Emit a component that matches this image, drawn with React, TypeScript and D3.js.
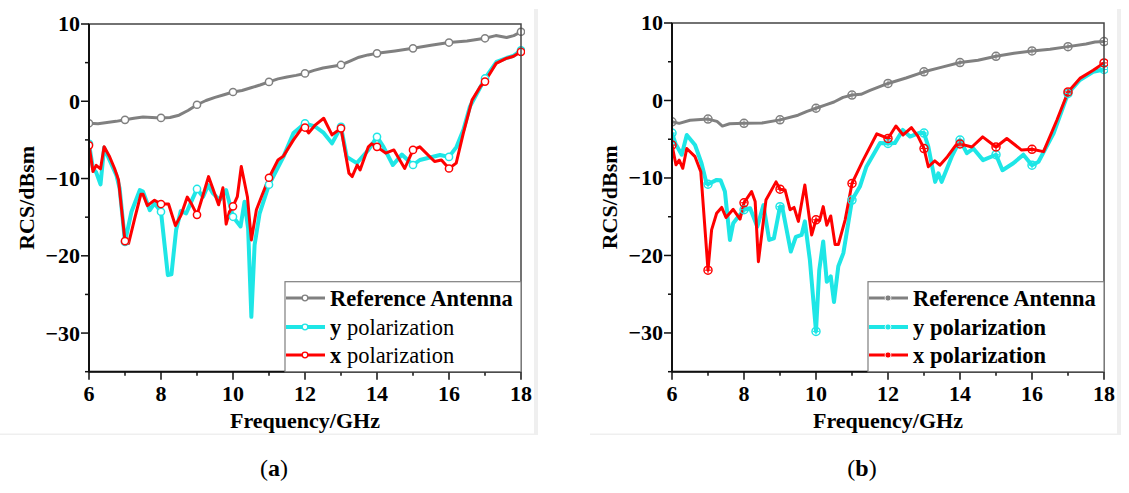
import * as d3 from "d3";

const W = 1129;
const H = 493;
const FONT = '"Liberation Serif", "Times New Roman", serif';

// [frequency GHz, RCS dBsm]
const REF_A: [number, number][] = [
  [6, -2.85], [6.25, -2.9], [6.5, -2.75], [6.75, -2.6], [7, -2.4], [7.25, -2.2], [7.5, -2.05],
  [7.75, -2.1], [8, -2.15], [8.25, -2.1], [8.5, -1.8], [8.75, -1.2], [9, -0.45], [9.25, 0.1],
  [9.5, 0.5], [9.75, 0.85], [10, 1.2], [10.25, 1.4], [10.5, 1.75], [10.75, 2.1], [11, 2.5],
  [11.25, 2.9], [11.5, 3.15], [11.75, 3.35], [12, 3.6], [12.25, 4.0], [12.5, 4.3], [12.75, 4.5],
  [13, 4.7], [13.25, 5.2], [13.5, 5.7], [13.75, 6.0], [14, 6.2], [14.5, 6.5], [15, 6.85],
  [15.5, 7.25], [16, 7.6], [16.5, 7.8], [17, 8.15], [17.3, 8.5], [17.6, 8.25], [17.8, 8.5], [18, 9.0],
];

const YPOL_A: [number, number][] = [
  [6, -5.5], [6.11, -8.7], [6.2, -9.2], [6.32, -10.75], [6.42, -6.0], [6.57, -7.6], [6.76, -9.55],
  [6.85, -11.25], [7, -18.2], [7.06, -16.9], [7.18, -14.3], [7.41, -11.5], [7.5, -11.7], [7.69, -14.1],
  [7.82, -13.2], [8, -14.3], [8.19, -22.5], [8.29, -22.4], [8.42, -16.65], [8.55, -14.2], [8.7, -14.5],
  [8.86, -12.8], [9, -11.35], [9.17, -12.35], [9.31, -10.85], [9.44, -11.9], [9.63, -12.8], [9.81, -11.5],
  [10, -14.95], [10.21, -16.2], [10.32, -13.0], [10.42, -16.45], [10.51, -27.9], [10.6, -18.6],
  [10.74, -14.5], [11, -10.8], [11.4, -7.2], [11.68, -4.1], [12, -2.85], [12.29, -3.3], [12.52, -4.1],
  [12.75, -5.45], [13, -3.3], [13.16, -7.2], [13.44, -8.0], [13.76, -6.3], [14, -4.6], [14.18, -5.9],
  [14.44, -8.25], [14.69, -6.9], [15, -8.25], [15.19, -7.6], [15.75, -6.95], [16, -7.2], [16.21, -5.9],
  [16.4, -3.7], [16.58, -0.7], [17, 2.95], [17.32, 5.1], [17.6, 5.6], [17.8, 5.9], [18, 6.6],
];

const XPOL_A: [number, number][] = [
  [6, -5.7], [6.11, -9.1], [6.2, -8.3], [6.32, -8.75], [6.42, -5.9], [6.57, -7.15], [6.71, -8.7],
  [6.82, -10.2], [7, -18.1], [7.1, -18.4], [7.27, -15.15], [7.44, -12.05], [7.5, -12.05], [7.62, -13.5],
  [7.82, -12.8], [8, -13.3], [8.21, -13.3], [8.4, -16.1], [8.56, -14.7], [8.73, -12.4], [8.86, -13.4],
  [9, -14.7], [9.17, -12.1], [9.32, -9.75], [9.44, -11.3], [9.6, -13.4], [9.72, -11.2], [9.81, -15.9],
  [9.9, -14.3], [10, -13.6], [10.12, -12.35], [10.23, -8.45], [10.4, -12.35], [10.51, -17.95],
  [10.65, -14.05], [10.79, -12.35], [11, -9.9], [11.25, -7.6], [11.4, -7.1], [11.68, -5.0], [11.91, -3.5],
  [12, -3.4], [12.1, -4.1], [12.29, -3.05], [12.52, -2.2], [12.75, -4.35], [13, -3.5], [13.22, -9.3],
  [13.31, -9.75], [13.45, -8.25], [13.53, -8.9], [13.76, -5.9], [13.85, -5.5], [14, -5.9], [14.24, -6.7],
  [14.47, -6.3], [14.77, -8.7], [15, -6.3], [15.19, -5.9], [15.6, -7.8], [15.79, -7.6], [16, -8.7],
  [16.2, -8.0], [16.4, -4.1], [16.64, 0.15], [16.87, 1.9], [17, 2.55], [17.31, 4.9], [17.59, 5.55],
  [17.78, 5.8], [18, 6.4],
];

const REF_B: [number, number][] = [
  [6, -2.75], [6.2, -2.95], [6.5, -2.55], [7, -2.4], [7.25, -2.7], [7.4, -3.3], [7.6, -3.0], [8, -2.95],
  [8.5, -2.9], [9, -2.5], [9.5, -1.9], [9.75, -1.4], [10, -1.0], [10.25, -0.6], [10.5, -0.2],
  [10.75, 0.4], [11, 0.7], [11.25, 0.8], [11.5, 1.3], [12, 2.2], [12.5, 2.9], [13, 3.7], [13.5, 4.3],
  [14, 4.9], [14.5, 5.2], [15, 5.7], [15.5, 6.1], [16, 6.4], [16.5, 6.6], [17, 6.95], [17.5, 7.3],
  [17.75, 7.55], [18, 7.6],
];

const YPOL_B: [number, number][] = [
  [6, -4.2], [6.1, -5.6], [6.27, -7.0], [6.41, -4.45], [6.64, -5.75], [6.82, -8.1], [6.96, -10.7],
  [7, -10.8], [7.24, -10.25], [7.35, -10.3], [7.47, -11.75], [7.61, -18.0], [7.7, -15.85], [7.84, -15.0],
  [8, -14.1], [8.17, -13.9], [8.37, -16.3], [8.54, -13.5], [8.7, -18.0], [8.83, -17.8], [9, -13.7],
  [9.06, -13.7], [9.3, -19.5], [9.44, -17.6], [9.6, -17.35], [9.69, -15.6], [9.83, -20.6], [10, -29.8],
  [10.09, -21.9], [10.2, -18.2], [10.3, -23.4], [10.41, -22.7], [10.5, -26.0], [10.62, -21.4],
  [10.76, -19.7], [11, -12.85], [11.22, -11.1], [11.4, -8.55], [11.78, -5.5], [12, -5.55], [12.19, -5.5],
  [12.41, -3.8], [12.61, -4.65], [12.89, -4.15], [13, -4.2], [13.12, -5.95], [13.31, -10.5], [13.4, -9.4],
  [13.49, -10.5], [13.77, -7.25], [14, -5.1], [14.19, -6.8], [14.37, -6.2], [14.64, -7.7], [15, -7.0],
  [15.18, -9.0], [15.48, -8.1], [15.76, -7.0], [16, -8.35], [16.18, -7.9], [16.6, -4.25], [17, 0.9],
  [17.33, 2.65], [17.7, 3.7], [18, 4.0],
];

const XPOL_B: [number, number][] = [
  [6, -5.75], [6.11, -8.3], [6.2, -7.7], [6.3, -8.75], [6.41, -6.2], [6.64, -7.25], [6.8, -9.2],
  [7, -21.9], [7.1, -16.7], [7.24, -14.55], [7.38, -13.8], [7.5, -15.1], [7.7, -14.05], [7.89, -15.3],
  [8, -13.2], [8.21, -11.75], [8.31, -13.05], [8.4, -20.8], [8.61, -12.85], [8.89, -10.5], [9, -11.45],
  [9.14, -11.55], [9.28, -14.1], [9.39, -13.8], [9.51, -15.6], [9.69, -10.9], [9.88, -17.35], [10, -15.4],
  [10.1, -15.5], [10.2, -13.7], [10.3, -16.1], [10.41, -14.9], [10.53, -18.6], [10.62, -18.6],
  [10.81, -15.4], [11, -10.7], [11.31, -7.7], [11.69, -4.3], [12, -4.9], [12.22, -3.3], [12.42, -4.45],
  [12.65, -3.5], [12.83, -4.6], [13, -6.2], [13.12, -8.55], [13.3, -7.8], [13.44, -8.35], [13.65, -7.25],
  [13.88, -5.8], [14, -5.6], [14.33, -6.0], [14.63, -4.7], [15, -6.0], [15.3, -4.9], [15.71, -6.4],
  [16, -6.3], [16.32, -6.6], [16.69, -2.55], [17, 1.1], [17.33, 2.85], [17.7, 3.9], [18, 4.85],
];

const X_TICKS = [6, 8, 10, 12, 14, 16, 18];
const X_MINOR = [7, 9, 11, 13, 15, 17];
const Y_TICKS = [10, 0, -10, -20, -30];
const Y_MINOR = [5, -5, -15, -25, -35];
const SERIES_NAMES = ["Reference Antenna", "y polarization", "x polarization"];
const COLORS = ["#808080", "#1ee6e6", "#ff0000"];
const WIDTHS = [3, 4, 3];

type PanelProps = {
  left: number;
  right: number;
  top: number;
  bottom: number;
  series: [number, number][][];
  cross: boolean;
  allBold: boolean;
  legendLeft: number;
  tag: string;
  tagX: number;
};

function Marker({ x, y, color, cross }: { x: number; y: number; color: string; cross: boolean }) {
  if (cross) {
    return (
      <g>
        <circle cx={x} cy={y} r={4} fill="none" stroke={color} strokeWidth={1.5} />
        <line x1={x - 3} x2={x + 3} y1={y} y2={y} stroke={color} strokeWidth={1} />
        <line x1={x} x2={x} y1={y - 3} y2={y + 3} stroke={color} strokeWidth={1} />
      </g>
    );
  }
  return <circle cx={x} cy={y} r={3.6} fill="#fff" stroke={color} strokeWidth={1.5} />;
}

function Panel(p: PanelProps) {
  const x = d3.scaleLinear().domain([6, 18]).range([p.left, p.right]);
  const y = d3.scaleLinear().domain([-35, 10]).range([p.bottom, p.top]);
  const line = d3
    .line<[number, number]>()
    .x((d) => x(d[0]))
    .y((d) => y(d[1]));
  const midX = (p.left + p.right) / 2;
  const midY = (p.top + p.bottom) / 2;
  const legendTop = p.bottom - 90;
  const rowY = [298, 327, 355];

  return (
    <g fontFamily={FONT} fill="#000">
      <defs>
        <clipPath id={`clip-${p.tag}`}>
          <rect x={p.left} y={p.top - 6} width={p.right - p.left + 4} height={p.bottom - p.top + 6} />
        </clipPath>
      </defs>
      <g clipPath={`url(#clip-${p.tag})`}>
        {p.series.map((s, i) => (
          <path
            key={i}
            d={line(s) ?? ""}
            fill="none"
            stroke={COLORS[i]}
            strokeWidth={WIDTHS[i]}
            strokeLinejoin="round"
          />
        ))}
        {p.series.map((s, i) =>
          s
            .filter((d) => Number.isInteger(d[0]))
            .map((d) => (
              <Marker key={`${i}-${d[0]}`} x={x(d[0])} y={y(d[1])} color={COLORS[i]} cross={p.cross} />
            ))
        )}
      </g>
      {/* frame */}
      <rect
        x={p.left}
        y={p.top}
        width={p.right - p.left}
        height={p.bottom - p.top}
        fill="none"
        stroke="#444"
        strokeWidth={1.5}
      />
      <line x1={p.left} x2={p.left} y1={p.top} y2={p.bottom} stroke="#111" strokeWidth={2} />
      <line x1={p.left} x2={p.right} y1={p.bottom} y2={p.bottom} stroke="#111" strokeWidth={2} />
      {Y_TICKS.map((t) => (
        <g key={`y${t}`}>
          <line x1={p.left - 8} x2={p.left} y1={y(t)} y2={y(t)} stroke="#111" strokeWidth={1.5} />
          <text x={p.left - 9} y={y(t)} dy="0.34em" textAnchor="end" fontSize={22} fontWeight="bold">
            {t < 0 ? `\u2212${Math.abs(t)}` : t}
          </text>
        </g>
      ))}
      {Y_MINOR.map((t) => (
        <line key={`ym${t}`} x1={p.left - 4} x2={p.left} y1={y(t)} y2={y(t)} stroke="#111" strokeWidth={1.5} />
      ))}
      {X_TICKS.map((t) => (
        <g key={`x${t}`}>
          <line x1={x(t)} x2={x(t)} y1={p.bottom} y2={p.bottom + 8} stroke="#111" strokeWidth={1.5} />
          <text x={x(t)} y={401} textAnchor="middle" fontSize={22} fontWeight="bold">
            {t}
          </text>
        </g>
      ))}
      {X_MINOR.map((t) => (
        <line key={`xm${t}`} x1={x(t)} x2={x(t)} y1={p.bottom} y2={p.bottom + 4} stroke="#111" strokeWidth={1.5} />
      ))}
      <text x={midX} y={428} textAnchor="middle" fontSize={22} fontWeight="bold">
        Frequency/GHz
      </text>
      <text
        transform={`translate(${p.left - 55},${midY}) rotate(-90)`}
        textAnchor="middle"
        fontSize={22}
        fontWeight="bold"
      >
        RCS/dBsm
      </text>
      {/* legend */}
      <rect
        x={p.legendLeft}
        y={legendTop}
        width={p.right - p.legendLeft}
        height={p.bottom - legendTop}
        fill="#fff"
        stroke="#7f7f7f"
        strokeWidth={1.2}
      />
      {SERIES_NAMES.map((name, i) => {
        const ry = rowY[i];
        const lx = p.legendLeft + 1;
        const [first, ...rest] = name.split(" ");
        return (
          <g key={name}>
            <line x1={lx} x2={lx + 39} y1={ry} y2={ry} stroke={COLORS[i]} strokeWidth={WIDTHS[i]} />
            {p.cross ? (
              <circle cx={lx + 19} cy={ry} r={3} fill={COLORS[i]} stroke="#fff" strokeWidth={0.8} />
            ) : (
              <circle cx={lx + 19} cy={ry} r={2.8} fill="#fff" stroke={COLORS[i]} strokeWidth={1.3} />
            )}
            <text x={lx + 44} y={ry} dy="0.34em" fontSize={22.5} fontWeight="bold">
              {i === 0 || p.allBold ? (
                name
              ) : (
                <>
                  {first}
                  <tspan fontWeight="normal">{" " + rest.join(" ")}</tspan>
                </>
              )}
            </text>
          </g>
        );
      })}
      <text x={p.tagX} y={476} textAnchor="middle" fontSize={24}>
        (<tspan fontWeight="bold">{p.tag}</tspan>)
      </text>
    </g>
  );
}

export default function App() {
  return (
    <div style={{ position: "absolute", left: 0, top: 0 }}>
      <svg width={W} height={H} viewBox={`0 0 ${W} ${H}`}>
        <rect width={W} height={H} fill="#fff" />
        <rect x={534} y={9} width={4} height={426} fill="#efefef" />
        <rect x={0} y={433.5} width={538} height={1.5} fill="#efefef" />
        <rect x={1117} y={9} width={4} height={426} fill="#efefef" />
        <rect x={590} y={433.5} width={531} height={1.5} fill="#efefef" />
        <Panel
          left={89}
          right={521}
          top={24}
          bottom={371.7}
          series={[REF_A, YPOL_A, XPOL_A]}
          cross={false}
          allBold={false}
          legendLeft={285}
          tag="a"
          tagX={274}
        />
        <Panel
          left={672}
          right={1104}
          top={23}
          bottom={371.7}
          series={[REF_B, YPOL_B, XPOL_B]}
          cross={true}
          allBold={true}
          legendLeft={868}
          tag="b"
          tagX={862}
        />
      </svg>
    </div>
  );
}
